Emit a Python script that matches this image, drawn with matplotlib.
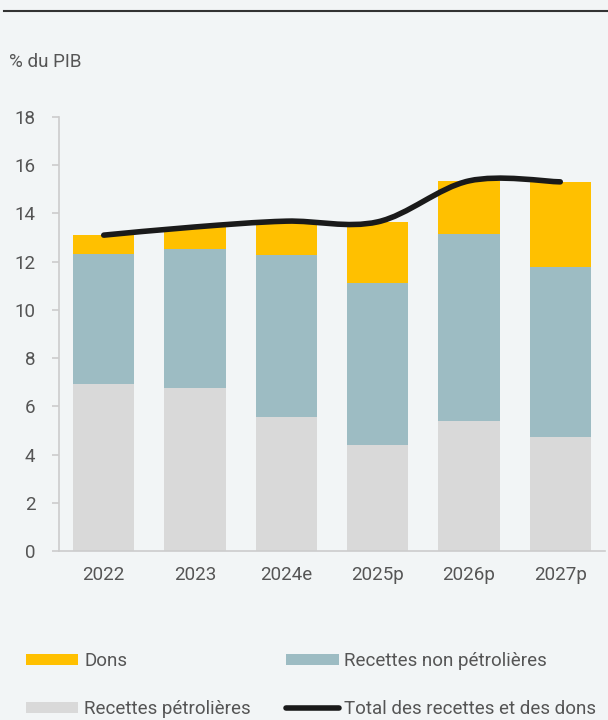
import matplotlib.pyplot as plt
import numpy as np
from matplotlib.path import Path
from matplotlib.patches import PathPatch
from matplotlib.lines import Line2D

years = ["2022", "2023", "2024e", "2025p", "2026p", "2027p"]
petrol = [6.93, 6.76, 5.56, 4.40, 5.39, 4.73]
non_petrol = [5.39, 5.77, 6.72, 6.72, 7.76, 7.05]
dons = [0.78, 0.91, 1.40, 2.53, 2.20, 3.53]
total = [13.10, 13.44, 13.68, 13.65, 15.35, 15.31]

bg = "#F2F5F6"
txt = "#555555"
fs = 13.5
plt.rcParams["font.family"] = ["Roboto", "DejaVu Sans"]

fig = plt.figure(figsize=(6.08, 7.2), dpi=100, facecolor=bg)
ax = fig.add_axes([59/608, 1-551/720, 546/608, 434/720], facecolor=bg)

x = np.arange(len(years))
w = 0.67
ax.bar(x, petrol, w, color="#D9D9D9", label="Recettes pétrolières")
ax.bar(x, non_petrol, w, bottom=petrol, color="#9DBCC3", label="Recettes non pétrolières")
bot2 = np.array(petrol) + np.array(non_petrol)
ax.bar(x, dons, w, bottom=bot2, color="#FFC000", label="Dons")

# smoothed line (Excel-like), bezier segments through the totals
pts = np.column_stack([x, total]).astype(float)
ext = np.vstack([pts[0], pts, pts[-1]])
verts = [tuple(pts[0])]
codes = [Path.MOVETO]
for i in range(len(pts) - 1):
    p0, p1, p2, p3 = ext[i], ext[i+1], ext[i+2], ext[i+3]
    c1 = p1 + (p2 - p0) / 6
    c2 = p2 - (p3 - p1) / 6
    verts += [tuple(c1), tuple(c2), tuple(p2)]
    codes += [Path.CURVE4] * 3
ax.add_patch(PathPatch(Path(verts, codes), fill=False, edgecolor="#1A1A1A",
                       lw=4.0, capstyle="round", zorder=5))

ax.set_xlim(-0.49, 5.49)
ax.set_ylim(0, 18)
ax.set_yticks(range(0, 19, 2))
ax.set_xticks(x)
ax.set_xticklabels(years)
ax.tick_params(axis="y", colors="#CCCCCC", labelcolor=txt, labelsize=fs, length=5, width=1.2, pad=12)
ax.tick_params(axis="x", length=0, labelcolor=txt, labelsize=fs, pad=11)
for s in ["top", "right"]:
    ax.spines[s].set_visible(False)
ax.spines["left"].set_color("#CCCCCC")
ax.spines["left"].set_linewidth(1.2)
ax.spines["bottom"].set_color("#CCCCCC")
ax.spines["bottom"].set_linewidth(1.2)

fig.text(9/608, 1-62/720, "% du PIB", fontsize=fs, color=txt, va="center")
fig.add_artist(Line2D([4/608, 1], [1-11/720, 1-11/720], color="#333333", lw=1.5))

h = ax.get_legend_handles_labels()[0]
line_h = Line2D([], [], color="#1A1A1A", lw=4.0, solid_capstyle="round")
handles = [h[2], h[0], h[1], line_h]
labels = ["Dons", "Recettes pétrolières", "Recettes non pétrolières", "Total des recettes et des dons"]
fig.legend(handles, labels, ncol=2, loc="upper left", bbox_to_anchor=(9/608, 1-635/720),
           frameon=False, fontsize=fs, labelcolor=txt, handlelength=2.8, handleheight=0.55,
           handletextpad=0.3, columnspacing=1.9, labelspacing=1.6)

plt.savefig("out.png", dpi=100, facecolor=bg)
